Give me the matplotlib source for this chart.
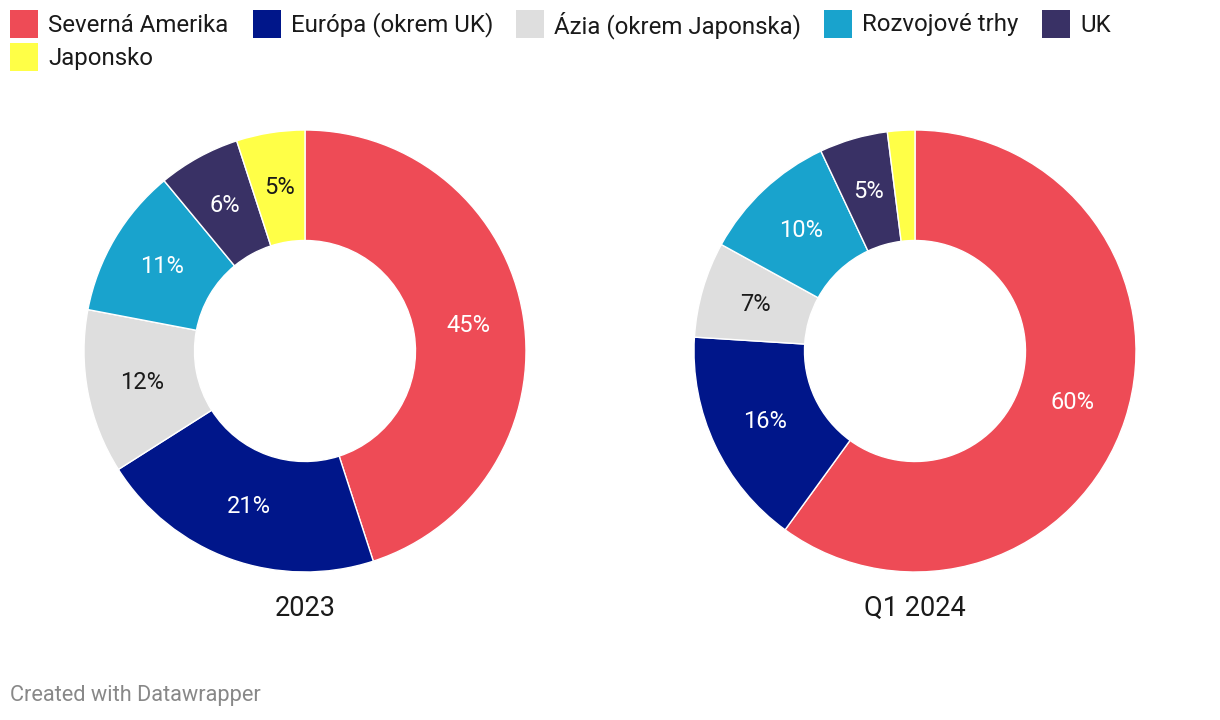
import matplotlib
matplotlib.use("Agg")
import matplotlib.pyplot as plt
from matplotlib.patches import Rectangle

plt.rcParams['font.family'] = ['Roboto', 'DejaVu Sans']

categories = ["Severná Amerika", "Európa (okrem UK)", "Ázia (okrem Japonska)",
              "Rozvojové trhy", "UK", "Japonsko"]
colors = ["#EE4B56", "#00168A", "#DEDEDE", "#19A3CD", "#393165", "#FFFF47"]
label_colors = ["white", "white", "#1a1a1a", "white", "white", "#1a1a1a"]
values_2023 = [45, 21, 12, 11, 6, 5]
values_q1_2024 = [60, 16, 7, 10, 5, 2]
titles = ["2023", "Q1 2024"]

W, H = 1220, 720
fig = plt.figure(figsize=(W / 100, H / 100), dpi=100)

# Legend (manual, Datawrapper style)
legend_pos = [(10, 10), (253, 10), (516, 10), (824, 10), (1042, 10), (10, 43)]
for (x, y), cat, col in zip(legend_pos, categories, colors):
    fig.add_artist(Rectangle((x / W, 1 - (y + 28) / H), 28 / W, 28 / H,
                             transform=fig.transFigure, facecolor=col,
                             edgecolor='none'))
    fig.text((x + 38) / W, 1 - (y + 15) / H, cat, fontsize=17.3,
             color="#1a1a1a", va='center', ha='left')

centers = [305, 915]
cy = 351
R = 221
for cx, vals, title in zip(centers, [values_2023, values_q1_2024], titles):
    ax = fig.add_axes([(cx - R) / W, (H - cy - R) / H, 2 * R / W, 2 * R / H])
    wedges, texts, autotexts = ax.pie(
        vals, colors=colors, startangle=90, counterclock=False, radius=1,
        wedgeprops=dict(width=0.5, edgecolor='white', linewidth=1),
        autopct=lambda p: f"{p:.0f}%" if p >= 3 else "",
        pctdistance=0.75, textprops=dict(fontsize=17))
    for t, c in zip(autotexts, label_colors):
        t.set_color(c)
    ax.set_xlim(-1, 1)
    ax.set_ylim(-1, 1)
    ax.set_aspect('equal')
    ax.axis('off')
    fig.text(cx / W, 1 - 608 / H, title, fontsize=19.5, color="#1a1a1a",
             ha='center', va='center')

fig.text(10 / W, 1 - 696 / H, "Created with Datawrapper", fontsize=15.7,
         color="#888888", ha='left', va='center')

fig.savefig("out.png", dpi=100)
